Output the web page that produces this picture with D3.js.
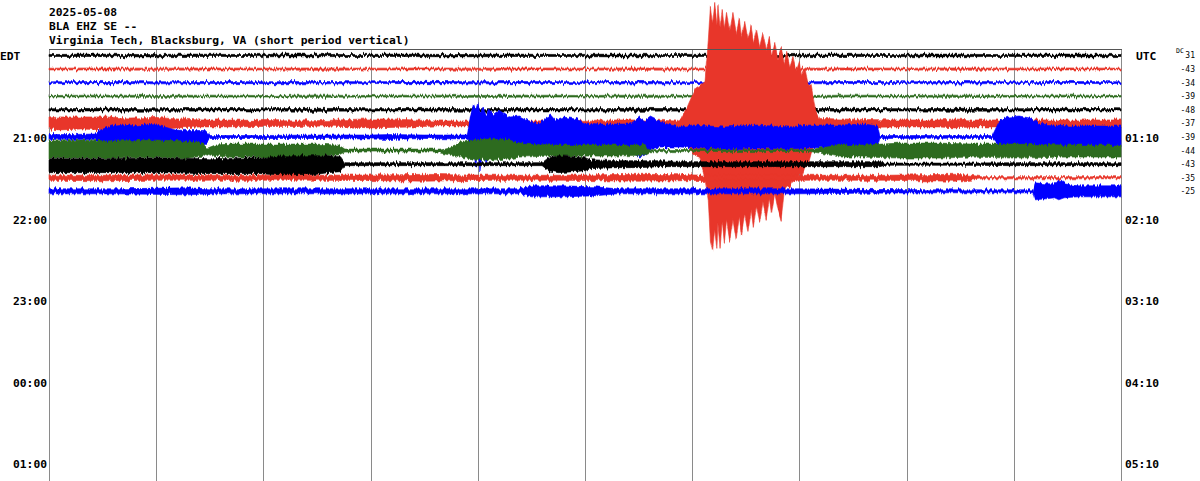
<!DOCTYPE html>
<html><head><meta charset="utf-8">
<script src="https://cdn.jsdelivr.net/npm/d3@7"></script>
<style>body{margin:0;background:#fff;overflow:hidden} svg{display:block}</style>
</head><body><svg id="c" width="1200" height="481"></svg>
<script>
// ---- data ----
const headerLines = ["2025-05-08", "BLA EHZ SE --", "Virginia Tech, Blacksburg, VA (short period vertical)"];
const edtLabels = ["21:00", "22:00", "23:00", "00:00", "01:00"];
const utcLabels = ["01:10", "02:10", "03:10", "04:10", "05:10"];
const labelRows = [6, 12, 18, 24, 30];
const dcValues = [31, -43, -34, -39, -48, -37, -39, -44, -43, -35, -25];
const minuteTicks = [0, 1, 2, 3, 4, 5, 6, 7, 8, 9, 10];

// each trace: [minute within the 10-min line, amplitude up, amplitude down]
const trace0 = [[0,1,1],[0.4,1.4,1],[0.9,1,1.4],[1.3,1.4,1],[1.8,1,1],[2.3,1.4,1.4],[2.8,1,1],[3.3,1.4,1],[3.8,1,1.4],[4.3,1.4,1],[4.8,1,1],[5.3,1.4,1.4],[5.8,1,1],[6.3,1.4,1],[6.8,1,1.4],[7.3,1.4,1],[7.8,1,1],[8.3,1.4,1.4],[8.8,1,1],[9.3,1.4,1],[9.7,1.4,1.4],[10,1,1]];
const trace1 = [[0,0.9,0.9],[0.5,1.2,0.9],[1,0.9,1.2],[1.5,1.2,0.9],[2,0.9,0.9],[2.5,1.2,1.2],[3,0.9,0.9],[3.5,1.2,0.9],[4,0.9,1.2],[4.5,1.2,0.9],[5,0.9,0.9],[5.5,1.2,1.2],[6,0.9,0.9],[6.5,1.2,0.9],[7,0.9,1.2],[7.5,1.2,0.9],[8,0.9,0.9],[8.5,1.2,1.2],[9,0.9,0.9],[9.5,1.2,0.9],[10,0.9,0.9]];
const trace2 = [[0,0.9,0.9],[0.5,1.2,1],[1,0.9,1.2],[1.5,1.2,0.9],[2,1,1],[2.5,1.2,1.2],[3,0.9,0.9],[3.5,1.3,1],[4,0.9,1.2],[4.5,1.2,0.9],[5,0.9,0.9],[5.5,1.2,1.2],[6,0.9,0.9],[6.5,1.2,0.9],[7,0.9,1.2],[7.5,1.2,0.9],[8,0.9,0.9],[8.5,1.2,1.2],[9,0.9,0.9],[9.5,1.2,0.9],[10,0.9,0.9]];
const trace3 = [[0,0.8,0.8],[0.5,1.1,0.8],[1,0.8,1.1],[1.5,1.1,0.8],[2,0.8,0.8],[2.5,1.1,1.1],[3,0.8,0.8],[3.5,1.1,0.8],[4,0.8,1.1],[4.5,1.1,0.8],[5,0.8,0.8],[5.5,1.1,1.1],[6,0.8,0.8],[6.5,1.1,0.8],[7,0.8,1.1],[7.5,1.1,0.8],[8,0.8,0.8],[8.5,1.1,1.1],[9,0.8,0.8],[9.5,1.1,0.8],[10,0.8,0.8]];
const trace4 = [[0,1.1,1.1],[0.5,1.5,1.1],[1,1.1,1.5],[1.5,1.5,1.1],[2,1.1,1.1],[2.5,1.5,1.5],[3,1.1,1.1],[3.5,1.5,1.1],[4,1.1,1.5],[4.5,1.5,1.1],[5,1.1,1.1],[5.5,1.5,1.5],[6,1.1,1.1],[6.5,1.5,1.1],[7,1.1,1.5],[7.5,1.5,1.1],[8,1.1,1.1],[8.5,1.5,1.5],[9,1.1,1.1],[9.5,1.5,1.1],[10,1.1,1.1]];
const trace5 = [[0,5.5,5.5],[0.1,6.5,6.5],[0.3,6.5,5.5],[0.5,6.5,6.5],[0.76,5.5,5.5],[1.0,6,6.5],[1.2,4.5,4.5],[1.41,3.5,3.5],[1.6,3.5,3.5],[2.0,3,3],[2.3,2.5,3],[2.6,3,2.5],[2.8,4,3.5],[3.0,4.5,4.5],[3.2,4.5,4],[3.4,3.5,3.5],[3.6,2.5,2.5],[3.9,2.5,2.5],[4.5,2.5,2.5],[5.3,3.5,2.5],[5.6,3.5,2.5],[5.85,2.5,2.5],
 [5.90,5,4],[5.94,13,10],[5.98,23,27],[6.03,35,32],[6.07,38,34],[6.12,43,55],[6.15,83,77],[6.17,118,117],[6.19,100,127],[6.21,120,105],[6.23,98,125],[6.24,118,100],[6.26,96,124],[6.28,115,98],[6.30,95,120],[6.32,112,96],[6.35,92,118],[6.38,110,95],[6.41,90,116],[6.44,106,93],[6.46,86,112],[6.49,102,90],[6.52,84,108],[6.55,98,86],[6.57,80,104],[6.60,94,82],[6.63,76,100],[6.66,90,78],[6.69,72,96],[6.72,86,74],[6.74,68,90],[6.77,82,70],[6.80,64,86],[6.83,76,97],[6.86,60,66],[6.88,72,62],[6.91,56,64],[6.94,66,56],[6.97,52,58],[7.00,62,50],[7.02,48,54],[7.05,56,44],[7.08,40,42],[7.11,38,30],[7.15,13,17],[7.19,5,5],
 [7.38,4.5,4.5],[7.6,4,4],[7.9,3.5,3.5],[8.3,3.5,3.5],[8.45,4.5,4.5],[8.6,3.5,3.5],[9.0,3.5,3.5],[9.5,3.5,3.5],[10,3.5,3.5]];
const trace6 = [[0,2.5,2.5],[0.2,2.5,2.5],[0.43,3,2.5],[0.48,7,4.5],[0.55,10,5.5],[0.62,12,6.5],[0.7,13,6.5],[0.8,11,6.5],[0.9,13,7],[1.0,12,6.5],[1.08,10,6.5],[1.18,7,7],[1.3,6.5,7],[1.46,6.5,6.5],[1.5,1.5,1.5],[2.0,1.5,1.5],[2.5,2,1.5],[3.0,2,2],[3.18,2.5,2.5],[3.5,2,1.5],[3.9,2,2],
 [3.93,20,6],[3.96,32,10],[3.98,27,30],[4.0,34,12],[4.02,24,34],[4.05,30,12],[4.08,22,28],[4.1,28,10],[4.15,22,9],[4.21,27,8],[4.3,20,8],[4.39,21,8],[4.48,16,8],[4.58,13,8],[4.63,19,8],[4.68,22,8],[4.72,17,8],[4.8,20,8],[4.91,18,8],[5.0,14,8],[5.14,13,8],[5.33,13,10],[5.42,13,15],[5.51,20,20],[5.56,16,18],[5.61,20,12],[5.7,15,10],[5.8,12,10],[5.89,10,10],[6.0,12,11],[6.3,10,12],[6.6,12,11],[6.9,10,12],[7.1,12,11],[7.38,12,10],[7.6,13,10],[7.73,11,9],
 [7.75,1.5,1.5],[8.2,1.5,1.2],[8.8,1.5,1.5],[8.87,17,10],[8.95,20,11],[9.05,21,11],[9.15,19,10],[9.24,13,10],[9.4,12,10],[9.52,11,10],[10,11,10]];
const trace7 = [[0,9.5,7.5],[0.3,10.5,7.5],[0.6,9.5,7.5],[1.0,10.5,6.5],[1.3,9.5,7.5],[1.44,7.5,5.5],[1.48,2.5,2.5],[1.55,5.5,5.5],[1.7,6.5,6.5],[2.0,6.5,6.5],[2.3,6.5,6.5],[2.48,6.5,5.5],[2.7,5.5,4.5],[2.76,1.5,1.5],[3.2,1.5,1.5],[3.65,1.5,1.5],[3.74,3.5,3.5],[3.83,7.5,6.5],[3.95,10.5,8.5],[4.1,11.5,9.5],[4.3,10.5,8.5],[4.39,6.5,6.5],[4.7,5.5,5.5],[5.0,5.5,5.5],[5.3,5.5,5.5],[5.55,5.5,4.5],[5.61,1.2,1.2],[6.0,1,1],[6.6,1,1],[7.1,1,1],[7.19,2.5,2.5],[7.38,5.5,6.5],[7.6,5.5,6.5],[7.94,7.5,7.5],[8.3,7.5,7.5],[8.6,6.5,6.5],[9.0,6.5,7.5],[9.5,5.5,6.5],[10,5.5,6.5]];
const trace8 = [[0,5.5,8.5],[0.5,5.5,8.5],[1.0,6.5,8.5],[1.5,5.5,9.5],[1.97,6.5,9.5],[2.2,8.5,11.5],[2.48,8.5,10.5],[2.6,8.5,8.5],[2.72,7.5,7.5],[2.76,1.5,1.5],[3.2,1.5,1.5],[3.7,1.5,1.5],[4.2,1.5,1.5],[4.6,1.5,1.5],[4.66,6.5,6.5],[4.75,8.5,8.5],[4.9,7.5,7.5],[5.0,6.5,6.5],[5.05,4.5,4.5],[5.3,3.5,3.5],[5.5,3.5,3.5],[5.7,3.5,2.5],[6.0,2.5,2.5],[6.5,2.5,2.5],[7.0,2.5,2.5],[7.5,2.5,2.5],[7.75,2.5,2.5],[7.8,1.1,1.1],[8.5,1.1,1.1],[9.0,1.5,1.5],[9.5,1.5,1.5],[10,1.5,1.5]];
const trace9 = [[0,2.5,2.5],[0.5,2.5,3],[1.0,3,2.5],[1.5,2.5,2.5],[2.0,2.5,2.5],[2.5,2.5,2.5],[3.27,3,3],[3.5,3.5,3.5],[3.74,3,3],[4.2,2.5,2.5],[4.8,2.5,2.5],[5.51,3.5,3.5],[5.9,3,3],[6.2,2.5,2.5],[7.0,2.5,2.5],[7.8,2.5,2.5],[8.45,3.5,3.5],[8.6,2.5,2.5],[8.7,1.1,1.1],[9.3,1.1,1.1],[10,1.1,1.1]];
const trace10 = [[0,2.5,2.5],[0.6,2.5,2.5],[1.3,3.5,3.5],[1.5,2.5,2.5],[2.2,2.5,2.5],[3.0,2.5,2.5],[3.8,2.5,2.5],[4.39,2.5,2.5],[4.5,5.5,5.5],[4.8,5.5,5.5],[5.1,4.5,4.5],[5.3,2.5,2.5],[6.0,2.5,2.5],[7.0,2.5,2.5],[7.5,2,2],[8.3,1.5,1.5],[9.18,1.5,1.5],[9.2,8.5,8.5],[9.3,7.5,7.5],[9.38,7.5,6.5],[9.42,12.5,8.5],[9.47,7.5,6.5],[9.6,5.5,5.5],[10,5.5,5.5]];
const traces = [trace0, trace1, trace2, trace3, trace4, trace5, trace6, trace7, trace8, trace9, trace10];

// ---- drawing ----
const palette = ["#000000", "#e8362a", "#0000ff", "#2d6b1f"];
const svg = d3.select("#c");
const x = d3.scaleLinear().domain([0, 10]).range([49, 1121]);
const row = d3.scaleLinear().domain([0, 30]).range([55.5, 463]);
const amp = d3.scaleLinear().domain([0, 1]).range([0, 1]);
const font = "'DejaVu Sans Mono', 'Liberation Mono', monospace";

// rendering texture: vertical-only jitter of the drawn trace edges (seismogram look)
const defs = svg.append("defs");
const flt = defs.append("filter").attr("id", "wiggle")
  .attr("filterUnits", "userSpaceOnUse").attr("x", 0).attr("y", 0)
  .attr("width", 1200).attr("height", 481)
  .attr("color-interpolation-filters", "sRGB");
flt.append("feTurbulence").attr("type", "fractalNoise")
  .attr("baseFrequency", "0.55 0.03").attr("numOctaves", 2).attr("seed", 7).attr("result", "t");
flt.append("feColorMatrix").attr("in", "t").attr("type", "matrix")
  .attr("values", "1 0 0 0 0  0 0 0 0 0.5  0 0 0 0 0  0 0 0 0 1").attr("result", "m");
flt.append("feDisplacementMap").attr("in", "SourceGraphic").attr("in2", "m")
  .attr("scale", 6).attr("xChannelSelector", "G").attr("yChannelSelector", "R");

// grid verticals
svg.append("g").selectAll("line").data(minuteTicks).join("line")
  .attr("x1", d => Math.round(x(d)) + 0.5).attr("x2", d => Math.round(x(d)) + 0.5)
  .attr("y1", 49).attr("y2", 481)
  .attr("stroke", "#8a8a8a").attr("stroke-width", 1);

// traces
const gT = svg.append("g");
traces.forEach((tr, i) => {
  const base = row(i);
  const area = d3.area()
    .x(d => x(d[0]))
    .y0(d => base + amp(d[2]))
    .y1(d => base - amp(d[1]));
  gT.append("path").attr("d", area(tr))
    .attr("fill", palette[i % 4])
    .attr("stroke", palette[i % 4]).attr("stroke-width", 0.6)
    .attr("filter", "url(#wiggle)");
});

// top border
svg.append("line").attr("x1", 49).attr("x2", 1122).attr("y1", 49.5).attr("y2", 49.5)
  .attr("stroke", "#555").attr("stroke-width", 1);

// header text
svg.append("g").selectAll("text").data(headerLines).join("text")
  .attr("x", 49).attr("y", (d, i) => 16 + i * 14)
  .attr("font-family", font).attr("font-weight", "bold").attr("font-size", 11.3)
  .attr("fill", "#000").text(d => d);

// EDT / UTC
svg.append("text").attr("x", 0).attr("y", row(0) + 4).attr("font-family", font)
  .attr("font-weight", "bold").attr("font-size", 11.3).text("EDT");
svg.append("text").attr("x", 1136).attr("y", row(0) + 4).attr("font-family", font)
  .attr("font-weight", "bold").attr("font-size", 11.3).text("UTC");

svg.append("g").selectAll("text").data(edtLabels).join("text")
  .attr("x", 47).attr("y", (d, i) => row(labelRows[i]) + 5).attr("text-anchor", "end")
  .attr("font-family", font).attr("font-weight", "bold").attr("font-size", 11.3).text(d => d);
svg.append("g").selectAll("text").data(utcLabels).join("text")
  .attr("x", 1125).attr("y", (d, i) => row(labelRows[i]) + 5)
  .attr("font-family", font).attr("font-weight", "bold").attr("font-size", 11.3).text(d => d);

// DC offsets
svg.append("text").attr("x", 1176).attr("y", 53).attr("font-family", font)
  .attr("font-size", 6.5).text("DC");
svg.append("g").selectAll("text").data(dcValues).join("text")
  .attr("x", 1195).attr("y", (d, i) => row(i) + 3 + (i === 0 ? -1 : 0)).attr("text-anchor", "end")
  .attr("font-family", font).attr("font-size", 8).text(d => d);
</script></body></html>
